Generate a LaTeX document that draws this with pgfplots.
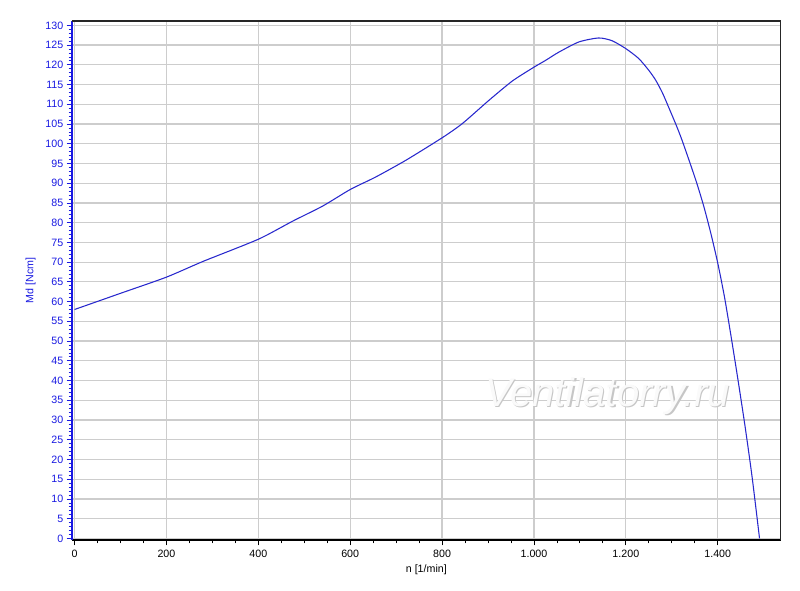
\documentclass[border=0pt]{standalone}
\usepackage{fontspec}
\setmainfont{Liberation Sans}
\usepackage{pgfplots}
\pgfplotsset{compat=1.18}
\definecolor{curveblue}{RGB}{40,40,205}
\definecolor{axblue}{RGB}{25,25,225}
\definecolor{gridgray}{RGB}{205,205,205}
\begin{document}
\begin{tikzpicture}[x=1pt,y=1pt]
\path[use as bounding box] (0,0) rectangle (600,442.5);
\begin{axis}[
  at={(54pt,37.5pt)}, anchor=south west,
  scale only axis, width=531.5pt, height=389.25pt,
  xmin=-5.5, xmax=1537, ymin=-0.4, ymax=131.1,
  axis x line*=bottom, axis y line*=left,
  x axis line style={-, black, line width=1.5pt},
  y axis line style={-, axblue, line width=1.5pt},
  xtick={0,200,...,1400}, ytick={0,5,...,130},
  minor x tick num=3, minor y tick num=4,
  tick align=outside,
  major tick length=4pt, minor tick length=2.5pt,
  xtick style={black, line width=0.6pt},
  ytick style={axblue, line width=0.6pt},
  grid=major, major grid style={gridgray, line width=0.9pt},
  tick label style={font=\fontsize{8}{9}\selectfont},
  yticklabel style={text=axblue, xshift=1pt},
  xticklabel style={text=black},
  xlabel={n [1/min]},
  ylabel={Md [Ncm]},
  xlabel style={font=\fontsize{8}{9}\selectfont, at={(rel axis cs:0.5,0)}, anchor=center, yshift=-22.5pt},
  ylabel style={font=\fontsize{8}{9}\selectfont, text=axblue, at={(rel axis cs:0,0.5)}, anchor=center, rotate=0, yshift=31pt},
  clip=false,
  /pgf/number format/.cd, 1000 sep={.}, assume math mode=true,
]
\draw[black!85, line width=1.2pt] (rel axis cs:0,1) -- (rel axis cs:1,1) -- (rel axis cs:1,0);
\node[font=\fontsize{30}{32}\selectfont\itshape, text=gray!45] at ([xshift=0.8pt,yshift=-0.8pt]axis cs:1160,36) {Ventilatorry.ru};
\node[font=\fontsize{30}{32}\selectfont\itshape, text=white!96!gray] at (axis cs:1160,36) {Ventilatorry.ru};
\addplot[curveblue, line width=0.8pt, smooth, tension=0.4] coordinates {
(0,58.0) (100,62.1) (200,66.2) (280,70.2) (400,75.8) (475,80.4)
(540,84.2) (600,88.4) (656,91.6) (721,95.8) (800,101.5) (844,105.1)
(902,111.0) (953,115.9) (1000,119.4) (1025,121.1) (1054,123.2)
(1098,125.8) (1141,126.8) (1170,126.1) (1200,124.1) (1228,121.6)
(1250,118.6) (1265,116.1) (1280,112.8) (1293,109.3) (1310,104.6)
(1322,101.0) (1340,95.0) (1355,89.8) (1370,84.0) (1385,77.3)
(1400,69.8) (1415,61.0) (1430,50.5) (1445,39.5) (1460,28.0)
(1475,15.4) (1491,0)
};
\end{axis}
\end{tikzpicture}
\end{document}
